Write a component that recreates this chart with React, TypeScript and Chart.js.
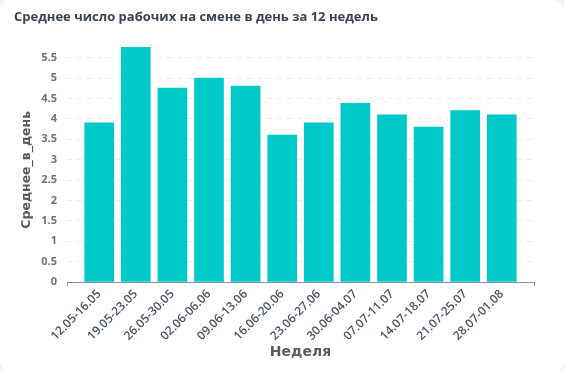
import React, { useEffect, useRef } from "react";
import { Chart, registerables } from "chart.js";

Chart.register(...registerables);

const weeks = [
  "12.05-16.05",
  "19.05-23.05",
  "26.05-30.05",
  "02.06-06.06",
  "09.06-13.06",
  "16.06-20.06",
  "23.06-27.06",
  "30.06-04.07",
  "07.07-11.07",
  "14.07-18.07",
  "21.07-25.07",
  "28.07-01.08",
];
const avgWorkers = [3.9, 5.75, 4.75, 5.0, 4.8, 3.6, 3.9, 4.38, 4.1, 3.8, 4.2, 4.1];
const yTicks = [0, 0.5, 1, 1.5, 2, 2.5, 3, 3.5, 4, 4.5, 5, 5.5];

const titleText = "Среднее число рабочих на смене в день за 12 недель";
const xTitle = "Неделя";
const yTitle = "Среднее_в_день";

const FONT = "'Open Sans', 'DejaVu Sans', sans-serif";
const AXIS_FONT = "'DejaVu Sans', sans-serif";
const X_PAD = 0.38;

export default function App() {
  const ref = useRef<HTMLCanvasElement | null>(null);

  useEffect(() => {
    if (!ref.current) return;
    const xMin = -0.5 - X_PAD;
    const xMax = weeks.length - 0.5 + X_PAD;
    const chart = new Chart(ref.current, {
      type: "bar",
      data: {
        datasets: [
          {
            data: avgWorkers.map((v, i) => ({ x: i, y: v })),
            backgroundColor: "#00c9c8",
            borderWidth: 0,
            barThickness: 29,
            clip: false,
          },
        ],
      },
      options: {
        animation: false,
        responsive: false,
        maintainAspectRatio: false,
        layout: { padding: { left: 14, right: 30, top: 0, bottom: 10 } },
        plugins: {
          legend: { display: false },
          tooltip: { enabled: false },
          title: {
            display: true,
            text: titleText,
            align: "start",
            color: "#3b4256",
            font: { family: FONT, size: 13, weight: "bold" },
            padding: { top: 9, bottom: 33 },
          },
        },
        scales: {
          x: {
            type: "linear",
            offset: false,
            min: xMin,
            max: xMax,
            afterBuildTicks: (scale: any) => {
              const t: any[] = [{ value: xMin }];
              weeks.forEach((_, i) => t.push({ value: i }));
              t.push({ value: xMax });
              scale.ticks = t;
            },
            afterFit: (scale: any) => {
              scale.height = 79;
              scale.paddingLeft = 0;
              scale.paddingRight = 0;
            },
            ticks: {
              autoSkip: false,
              minRotation: 45,
              maxRotation: 45,
              padding: 1,
              color: "#4b5166",
              font: { family: FONT, size: 12, weight: 600 },
              callback: (v: any) =>
                Number.isInteger(v) && v >= 0 && v < weeks.length ? weeks[v] : "",
            },
            grid: {
              display: true,
              offset: false,
              drawOnChartArea: false,
              drawTicks: true,
              tickLength: 4,
              color: (ctx: any) =>
                ctx.tick && !Number.isInteger(ctx.tick.value) ? "#8a90a2" : "rgba(0,0,0,0)",
            },
            border: { display: true, color: "#8a90a2", width: 1 },
            title: {
              display: true,
              text: xTitle,
              color: "#5c5c5c",
              font: { family: AXIS_FONT, size: 14, weight: "bold" },
              padding: { top: 0, bottom: 0 },
            },
          },
          y: {
            min: 0,
            max: 5.5,
            afterBuildTicks: (scale: any) => {
              scale.ticks = yTicks.map((v) => ({ value: v }));
            },
            afterFit: (scale: any) => {
              scale.width = 53;
              scale.paddingTop = 0;
              scale.paddingBottom = 0;
            },
            ticks: {
              padding: 10,
              color: "#6b7082",
              font: { family: FONT, size: 11, weight: "bold" },
              callback: (v: any) => String(v),
            },
            grid: {
              color: "#ebebeb",
              drawTicks: false,
            },
            border: { display: false, dash: [5, 5] },
            title: {
              display: true,
              text: yTitle,
              color: "#5a5a5a",
              font: { family: AXIS_FONT, size: 12.5, weight: "bold" },
              padding: { top: 5, bottom: 0 },
            },
          },
        },
      },
    });
    return () => chart.destroy();
  }, []);

  return (
    <div
      style={{
        position: "fixed",
        left: 0,
        top: 0,
        width: 564,
        height: 371,
        background: "#f3f3f3",
      }}
    >
      <div
        style={{
          width: 564,
          height: 371,
          background: "#ffffff",
          borderRadius: 10,
          overflow: "hidden",
        }}
      >
        <canvas ref={ref} width={564} height={371} style={{ display: "block" }} />
      </div>
    </div>
  );
}
